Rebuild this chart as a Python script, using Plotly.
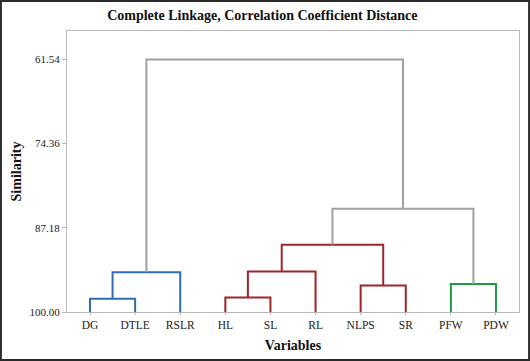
import plotly.graph_objects as go

# ---- data ----
leaves = ["DG", "DTLE", "RSLR", "HL", "SL", "RL", "NLPS", "SR", "PFW", "PDW"]
# merges (scipy-style indices: 0..9 leaves, 10.. merged clusters)
merge_left = [0, 3, 6, 8, 10, 11, 15, 16, 14]
merge_right = [1, 4, 7, 9, 2, 5, 12, 13, 17]
merge_similarity = [97.99, 97.80, 95.97, 95.73, 93.94, 93.85, 89.77, 84.28, 61.54]
y_tick_vals = [61.54, 74.36, 87.18, 100.00]
y_tick_text = ["61.54", "74.36", "87.18", "100.00"]

# ---- styles ----
BLUE = "#2f6cb3"
RED = "#a1242b"
GREEN = "#1f9a45"
GRAY = "#a0a0a0"
merge_colors = [BLUE, RED, RED, GREEN, BLUE, RED, RED, GRAY, GRAY]

n = len(leaves)
xpos = {i: i + 1 for i in range(n)}
ypos = {i: 100.0 for i in range(n)}

fig = go.Figure()
for k, (a, b, s) in enumerate(zip(merge_left, merge_right, merge_similarity)):
    xa, xb = xpos[a], xpos[b]
    fig.add_trace(go.Scatter(
        x=[xa, xa, xb, xb], y=[ypos[a], s, s, ypos[b]],
        mode="lines", line=dict(color=merge_colors[k], width=2),
        hoverinfo="skip", showlegend=False))
    xpos[n + k] = (xa + xb) / 2
    ypos[n + k] = s

FONT = "Liberation Serif"
FRAME = "#b8b8b8"
fig.update_layout(
    width=530, height=361,
    margin=dict(l=67, r=11, t=31, b=49),
    paper_bgcolor="white", plot_bgcolor="white",
    font=dict(family=FONT, size=11, color="#222"),
    title=dict(text="<b>Complete Linkage, Correlation Coefficient Distance</b>",
               x=0.495, xref="container", y=0.958, yref="container",
               xanchor="center", yanchor="middle",
               font=dict(family=FONT, size=14, color="#111")),
    xaxis=dict(range=[0.49, 10.51], tickvals=list(range(1, n + 1)), ticktext=leaves,
               showline=True, linecolor=FRAME, linewidth=1, mirror=True,
               ticks="outside", ticklen=2, tickcolor=FRAME,
               showgrid=False, zeroline=False, automargin=False,
               tickfont=dict(family=FONT, size=11.5, color="#222"),
               title=dict(text="<b>Variables</b>", standoff=10,
                          font=dict(family=FONT, size=14, color="#111"))),
    yaxis=dict(range=[100, 57.22], tickvals=y_tick_vals, ticktext=y_tick_text,
               showline=True, linecolor=FRAME, linewidth=1, mirror=True,
               ticks="outside", ticklen=4, tickcolor=FRAME,
               showgrid=False, zeroline=False, automargin=False,
               tickfont=dict(family=FONT, size=11, color="#222"),
               title=dict(text="<b>Similarity</b>", standoff=4,
                          font=dict(family=FONT, size=14, color="#111"))),
)

# outer image border
x0 = -67 / 452
x1 = (530 - 67) / 452
y1 = 1 + 31 / 281
y0 = -(361 - 312) / 281
fig.add_shape(type="rect", xref="paper", yref="paper",
              x0=x0 + 0.002, x1=x1 - 0.002, y0=y0 + 0.004, y1=y1 - 0.004,
              line=dict(color="#2a2a2a", width=2), fillcolor="rgba(0,0,0,0)")

fig.write_html("out.html", config={"displayModeBar": False},
               post_script="document.body.style.margin='0';document.body.style.overflow='hidden';")
